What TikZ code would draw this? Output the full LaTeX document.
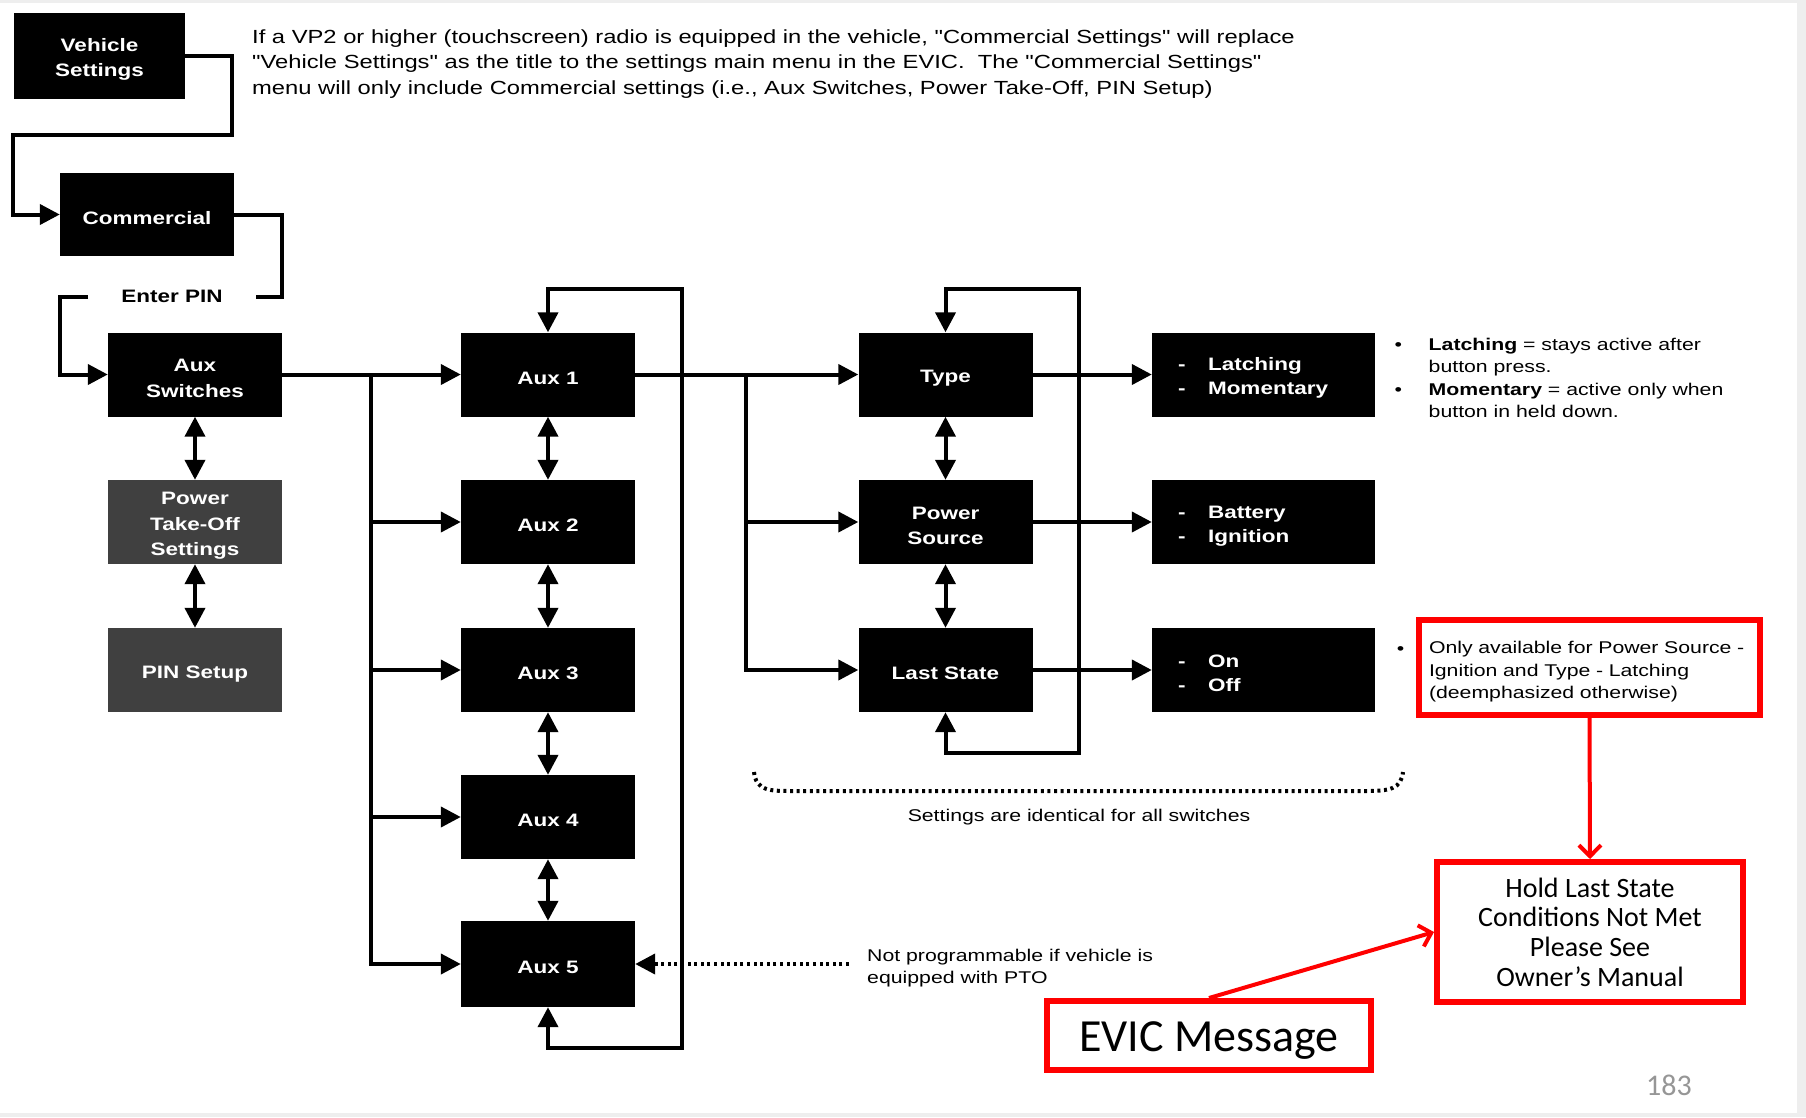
\documentclass[tikz,border=0pt]{standalone}
\usepackage{fontspec}
\setmainfont[FakeStretch=1.25]{Liberation Sans}
\newfontfamily\calib{Carlito}
\usetikzlibrary{arrows.meta}
\definecolor{ptogray}{RGB}{64,64,64}
\definecolor{pagegray}{RGB}{150,150,150}
\definecolor{bordergray}{RGB}{238,238,238}
\tikzset{
  bigtri/.tip={Triangle[length=20pt,width=20pt]},
  redbarb/.tip={Straight Barb[length=11pt,width=22pt,line width=4pt]},
}
\newcommand{\bst}{\rule{0pt}{20pt}}
\begin{document}
\begin{tikzpicture}[x=1pt,y=-1pt,
  box/.style={fill=black, text=white, inner sep=0pt, align=center,
    font=\bfseries\fontsize{18}{25.3}\selectfont, minimum width=174pt, minimum height=84pt,
    execute at begin node={\bst}},
  gbox/.style={box, fill=ptogray},
  obox/.style={box, minimum width=223pt, text width=171pt, inner xsep=26pt, align=left,
    font=\bfseries\fontsize{18}{24}\selectfont},
  ln/.style={line width=4pt},
  arr/.style={ln, -bigtri},
  darr/.style={ln, bigtri-bigtri},
  dotln/.style={line width=4pt, dash pattern=on 3pt off 3.6pt},
  small/.style={font=\fontsize{17}{22.5}\selectfont, inner sep=0pt, align=left},
  redbox/.style={draw=red, line width=6pt, inner sep=0pt},
  redarr/.style={draw=red, line width=4pt, -redbarb},
]
\fill[bordergray] (0,0) rectangle (1806,1117);
\fill[white] (0,3) rectangle (1797,1113);
\useasboundingbox (0,0) rectangle (1806,1117);

% top paragraph
\node[inner sep=0pt, anchor=north west, align=left, font=\fontsize{19}{25.3}\selectfont\addfontfeatures{Ligatures=TeXOff}] (intro) at (252,29.5)
 {If a VP2 or higher (touchscreen) radio is equipped in the vehicle, "Commercial Settings" will replace\\
  "Vehicle Settings" as the title to the settings main menu in the EVIC.\ \ The "Commercial Settings"\\
  menu will only include Commercial settings (i.e., Aux Switches, Power Take-Off, PIN Setup)};

% left column
\node[box, minimum width=171pt, minimum height=86pt] (vs) at (99.5,56) {\bst Vehicle\\Settings};
\node[box, minimum height=83pt] (com) at (147,214.5) {Commercial};
\node[font=\bfseries\fontsize{18}{22}\selectfont, inner xsep=33pt, inner ysep=0pt] (pintxt) at (172,296.5) {Enter PIN};
\node[box] (asw) at (195,374.5) {\bst Aux\\Switches};
\node[gbox] (pto) at (195,522) {\bst Power\\Take-Off\\Settings};
\node[gbox] (pin) at (195,670) {PIN Setup};

% aux column
\node[box] (aux1) at (548,374.5) {Aux 1};
\node[box] (aux2) at (548,522) {Aux 2};
\node[box] (aux3) at (548,670) {Aux 3};
\node[box] (aux4) at (548,817) {Aux 4};
\node[box, minimum height=86pt] (aux5) at (548,964) {Aux 5};

% settings column
\node[box] (type) at (945.5,374.5) {Type};
\node[box] (ps) at (945.5,522) {\bst Power\\Source};
\node[box] (ls) at (945.5,670) {Last State};

% options column
\node[obox] (o1) at (1263.5,374.5) {\makebox[30pt][l]{-}Latching\\\makebox[30pt][l]{-}Momentary};
\node[obox] (o2) at (1263.5,522) {\makebox[30pt][l]{-}Battery\\\makebox[30pt][l]{-}Ignition};
\node[obox] (o3) at (1263.5,670) {\makebox[30pt][l]{-}On\\\makebox[30pt][l]{-}Off};

% notes
\node[small, anchor=north west] (notes) at (1394.5,334.5)
 {\begin{tabular}{@{}p{34pt}@{}l@{}}
  \textbullet & \textbf{Latching} = stays active after\\
   & button press.\\
  \textbullet & \textbf{Momentary} = active only when\\
   & button in held down.
  \end{tabular}};
\node[small] (bul3) at (1400.5,650.5) {\textbullet};
\node[redbox, small, minimum width=341pt, minimum height=95pt, text width=321pt, inner xsep=10pt,
  execute at begin node={\rule{0pt}{21.5pt}}] (rb1) at (1589.5,667.5)
 {Only available for Power Source -\\Ignition and Type - Latching\\(deemphasized otherwise)};
\node[redbox, minimum width=306pt, minimum height=140pt, align=center, font=\calib\fontsize{28}{29.6}\selectfont,
  execute at begin node={\rule{0pt}{23pt}}] (rb2) at (1590,932)
 {Hold Last State\\Conditions Not Met\\Please See\\Owner’s Manual};
\node[redbox, minimum width=324pt, minimum height=69pt, font=\calib\fontsize{46}{50}\selectfont,
  execute at begin node={\rule{0pt}{39pt}}] (evic) at (1209,1035.5) {EVIC Message};
\node[font=\calib\fontsize{30}{34}\selectfont, text=pagegray, inner sep=0pt] (pg) at (1669,1085) {183};

% brace + labels
\draw[dotln] (754,772) .. controls (756,791) and (770,791) .. (792,791) -- (1365,791) .. controls (1390,791) and (1401,789) .. (1403,772);
\node[small] (same) at (1079,817.5) {Settings are identical for all switches};
\node[small, anchor=west] (nprog) at (867,968) {Not programmable if vehicle is\\equipped with PTO};
\coordinate (npstart) at (849,964);

% connectors left
\draw[arr] (vs.east) -- ++(47,0) |- (13,135) |- (com.west);
\draw[ln] (com.east) -- ++(48,0) |- (pintxt.east);
\draw[arr] (pintxt.west) -- ++(-28,0) |- (asw.west);
\draw[darr] (asw.south) -- (pto.north);
\draw[darr] (pto.south) -- (pin.north);

% aux trunk
\coordinate (t1) at (371,0);
\draw[arr] (asw.east) -- (aux1.west);
\draw[arr] (t1 |- asw.east) -- (t1 |- aux5.west) -- (aux5.west);
\draw[arr] (t1 |- aux2.west) -- (aux2.west);
\draw[arr] (t1 |- aux3.west) -- (aux3.west);
\draw[arr] (t1 |- aux4.west) -- (aux4.west);
\draw[darr] (aux1.south) -- (aux2.north);
\draw[darr] (aux2.south) -- (aux3.north);
\draw[darr] (aux3.south) -- (aux4.north);
\draw[darr] (aux4.south) -- (aux5.north);
\draw[darr] (aux5.south) -- ++(0,41) -| (682,289) -| (aux1.north);

% settings trunk
\coordinate (t2) at (746,0);
\draw[arr] (aux1.east) -- (type.west);
\draw[arr] (t2 |- aux1.east) -- (t2 |- ls.west) -- (ls.west);
\draw[arr] (t2 |- ps.west) -- (ps.west);
\draw[darr] (type.south) -- (ps.north);
\draw[darr] (ps.south) -- (ls.north);
\draw[darr] (ls.south) -- ++(0,41) -| (1079,289) -| (type.north);
\draw[arr] (type.east) -- (o1.west);
\draw[arr] (ps.east) -- (o2.west);
\draw[arr] (ls.east) -- (o3.west);

% dotted PTO arrow
\draw[dotln, -bigtri] (npstart) -- (aux5.east);

% red arrows
\draw[redarr] (rb1.south) -- (rb2.north);
\draw[redarr] (evic.north) -- (rb2.west);
\end{tikzpicture}
\end{document}
